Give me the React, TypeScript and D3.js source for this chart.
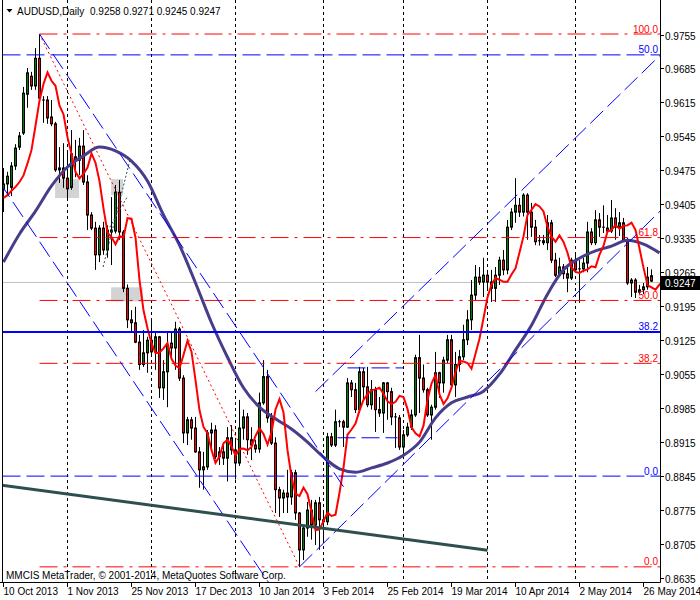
import React from "react";
import * as d3 from "d3";

// ---------- data ----------
const openPrices = [
  0.9435, 0.9447, 0.9440, 0.9484, 0.9523, 0.9552, 0.9632, 0.9669, 0.9649, 0.9706,
  0.9620, 0.9620, 0.9585, 0.9571, 0.9476, 0.9480, 0.9459, 0.9440, 0.9503, 0.9496,
  0.9525, 0.9451, 0.9383, 0.9356, 0.9301, 0.9356, 0.9311, 0.9352, 0.9350, 0.9430,
  0.9348, 0.9232, 0.9167, 0.9161, 0.9121, 0.9075, 0.9099, 0.9125, 0.9101, 0.9132,
  0.9027, 0.9060, 0.9119, 0.9109, 0.9148, 0.9047, 0.8934, 0.8961, 0.8944, 0.8895,
  0.8858, 0.8864, 0.8934, 0.8940, 0.8885, 0.8895, 0.8882, 0.8924, 0.8899, 0.8872,
  0.8944, 0.8967, 0.8920, 0.8909, 0.8901, 0.8996, 0.9050, 0.8965, 0.8913, 0.8817,
  0.8800, 0.8810, 0.8802, 0.8852, 0.8769, 0.8693, 0.8738, 0.8775, 0.8744, 0.8790,
  0.8755, 0.8751, 0.8926, 0.8909, 0.8957, 0.8957, 0.8946, 0.9037, 0.9023, 0.8982,
  0.9060, 0.9029, 0.8992, 0.9023, 0.8982, 0.8975, 0.9037, 0.9019, 0.8967, 0.8965,
  0.8905, 0.8930, 0.8946, 0.8971, 0.9089, 0.9047, 0.9023, 0.8971, 0.8987, 0.9058,
  0.9037, 0.9084, 0.9126, 0.9033, 0.9075, 0.9091, 0.9126, 0.9167, 0.9218, 0.9255,
  0.9245, 0.9259, 0.9245, 0.9232, 0.9259, 0.9290, 0.9270, 0.9358, 0.9389, 0.9403,
  0.9389, 0.9424, 0.9389, 0.9358, 0.9328, 0.9330, 0.9326, 0.9367, 0.9290, 0.9259,
  0.9276, 0.9262, 0.9253, 0.9290, 0.9270, 0.9272, 0.9284, 0.9348, 0.9326, 0.9373,
  0.9358, 0.9356, 0.9350, 0.9377, 0.9358, 0.9367, 0.9332, 0.9243, 0.9249, 0.9224,
  0.9229, 0.9235, 0.9258,
];
const highPrices = [
  0.9480, 0.9472, 0.9492, 0.9529, 0.9554, 0.9647, 0.9686, 0.9678, 0.9727, 0.9756,
  0.9628, 0.9628, 0.9620, 0.9575, 0.9523, 0.9531, 0.9513, 0.9558, 0.9538, 0.9542,
  0.9558, 0.9465, 0.9389, 0.9369, 0.9362, 0.9369, 0.9362, 0.9420, 0.9445, 0.9455,
  0.9352, 0.9240, 0.9187, 0.9194, 0.9136, 0.9146, 0.9132, 0.9167, 0.9140, 0.9134,
  0.9084, 0.9140, 0.9140, 0.9163, 0.9152, 0.9053, 0.8967, 0.8967, 0.8967, 0.8905,
  0.8895, 0.8940, 0.8955, 0.8950, 0.8905, 0.8915, 0.8946, 0.8950, 0.8924, 0.9002,
  0.8982, 0.8975, 0.8946, 0.8920, 0.9017, 0.9084, 0.9064, 0.8975, 0.8925, 0.8823,
  0.8817, 0.8858, 0.8858, 0.8858, 0.8771, 0.8744, 0.8792, 0.8796, 0.8796, 0.8802,
  0.8775, 0.8934, 0.8934, 0.8982, 0.8961, 0.8961, 0.9047, 0.9043, 0.9037, 0.9070,
  0.9068, 0.9070, 0.9043, 0.9029, 0.9008, 0.9039, 0.9039, 0.9027, 0.8975, 0.8971,
  0.8940, 0.8955, 0.8982, 0.9095, 0.9136, 0.9075, 0.9027, 0.8992, 0.9101, 0.9060,
  0.9091, 0.9136, 0.9136, 0.9101, 0.9105, 0.9157, 0.9187, 0.9249, 0.9280, 0.9276,
  0.9295, 0.9270, 0.9270, 0.9276, 0.9297, 0.9311, 0.9373, 0.9397, 0.9459, 0.9418,
  0.9428, 0.9428, 0.9408, 0.9373, 0.9342, 0.9342, 0.9383, 0.9373, 0.9305, 0.9295,
  0.9282, 0.9280, 0.9295, 0.9301, 0.9290, 0.9295, 0.9369, 0.9356, 0.9393, 0.9387,
  0.9403, 0.9383, 0.9414, 0.9397, 0.9389, 0.9377, 0.9336, 0.9253, 0.9253, 0.9239,
  0.9243, 0.9276, 0.9271,
];
const lowPrices = [
  0.9389, 0.9422, 0.9422, 0.9476, 0.9517, 0.9548, 0.9604, 0.9641, 0.9641, 0.9614,
  0.9573, 0.9571, 0.9566, 0.9472, 0.9449, 0.9439, 0.9418, 0.9435, 0.9461, 0.9465,
  0.9445, 0.9352, 0.9352, 0.9270, 0.9286, 0.9301, 0.9295, 0.9280, 0.9345, 0.9332,
  0.9224, 0.9150, 0.9140, 0.9119, 0.9064, 0.9070, 0.9058, 0.9091, 0.9064, 0.9006,
  0.9002, 0.8987, 0.9091, 0.9064, 0.9041, 0.8913, 0.8909, 0.8920, 0.8893, 0.8821,
  0.8817, 0.8858, 0.8899, 0.8880, 0.8868, 0.8868, 0.8834, 0.8889, 0.8838, 0.8866,
  0.8920, 0.8889, 0.8878, 0.8893, 0.8893, 0.8992, 0.8955, 0.8909, 0.8769, 0.8761,
  0.8769, 0.8769, 0.8786, 0.8755, 0.8658, 0.8672, 0.8720, 0.8714, 0.8703, 0.8693,
  0.8707, 0.8744, 0.8905, 0.8905, 0.8946, 0.8905, 0.8944, 0.9008, 0.8975, 0.8975,
  0.9002, 0.8987, 0.8982, 0.8936, 0.8967, 0.8934, 0.8961, 0.8950, 0.8903, 0.8899,
  0.8880, 0.8926, 0.8940, 0.8967, 0.8975, 0.9017, 0.8967, 0.8920, 0.8982, 0.9006,
  0.9017, 0.9078, 0.9029, 0.9008, 0.9060, 0.9084, 0.9115, 0.9146, 0.9208, 0.9239,
  0.9214, 0.9229, 0.9204, 0.9204, 0.9239, 0.9259, 0.9261, 0.9352, 0.9367, 0.9379,
  0.9380, 0.9332, 0.9338, 0.9321, 0.9320, 0.9321, 0.9311, 0.9284, 0.9255, 0.9255,
  0.9251, 0.9224, 0.9249, 0.9265, 0.9202, 0.9265, 0.9265, 0.9321, 0.9321, 0.9338,
  0.9346, 0.9346, 0.9346, 0.9332, 0.9340, 0.9328, 0.9239, 0.9214, 0.9212, 0.9220,
  0.9220, 0.9229, 0.9245,
];
const closePrices = [
  0.9447, 0.9463, 0.9484, 0.9521, 0.9546, 0.9634, 0.9676, 0.9649, 0.9706, 0.9624,
  0.9618, 0.9583, 0.9571, 0.9476, 0.9480, 0.9459, 0.9437, 0.9509, 0.9496, 0.9525,
  0.9451, 0.9383, 0.9356, 0.9301, 0.9356, 0.9311, 0.9352, 0.9348, 0.9430, 0.9348,
  0.9232, 0.9167, 0.9161, 0.9121, 0.9075, 0.9099, 0.9125, 0.9101, 0.9132, 0.9027,
  0.9060, 0.9115, 0.9109, 0.9148, 0.9047, 0.8934, 0.8961, 0.8944, 0.8895, 0.8858,
  0.8864, 0.8934, 0.8940, 0.8885, 0.8895, 0.8882, 0.8924, 0.8899, 0.8872, 0.8944,
  0.8967, 0.8920, 0.8909, 0.8901, 0.8996, 0.9050, 0.8965, 0.8913, 0.8817, 0.8800,
  0.8810, 0.8802, 0.8852, 0.8769, 0.8693, 0.8738, 0.8775, 0.8744, 0.8790, 0.8755,
  0.8751, 0.8926, 0.8909, 0.8957, 0.8957, 0.8946, 0.9037, 0.9023, 0.8982, 0.9060,
  0.9029, 0.8992, 0.9023, 0.8982, 0.8975, 0.9037, 0.9019, 0.8967, 0.8965, 0.8905,
  0.8930, 0.8946, 0.8971, 0.9089, 0.9047, 0.9023, 0.8971, 0.8987, 0.9058, 0.9037,
  0.9084, 0.9126, 0.9033, 0.9075, 0.9091, 0.9126, 0.9167, 0.9218, 0.9255, 0.9245,
  0.9259, 0.9245, 0.9232, 0.9259, 0.9290, 0.9270, 0.9358, 0.9389, 0.9403, 0.9389,
  0.9424, 0.9389, 0.9358, 0.9328, 0.9330, 0.9326, 0.9367, 0.9290, 0.9259, 0.9276,
  0.9262, 0.9253, 0.9290, 0.9270, 0.9272, 0.9284, 0.9348, 0.9326, 0.9373, 0.9358,
  0.9356, 0.9350, 0.9377, 0.9358, 0.9367, 0.9332, 0.9243, 0.9249, 0.9224, 0.9229,
  0.9235, 0.9255, 0.9247,
];

// red moving average: first values (earlier bars are off-chart)
const fastMaHead = [0.9418, 0.9424, 0.9433, 0.9441, 0.9451];
const fastPeriod = 3;
const fastShift = 3;

// slow (slate blue) moving average, read every 4 bars
const slowMaBars = [0, 4, 8, 12, 16, 20, 24, 28, 32, 36, 40, 44, 48, 52, 56, 60, 64, 68, 72, 76, 80,
  84, 88, 92, 96, 100, 104, 108, 112, 116, 120, 124, 128, 132, 136, 140, 144, 148, 152, 156, 160, 164];
const slowMaValues = [0.9286, 0.9344, 0.9391, 0.9443, 0.9482, 0.9505, 0.9523, 0.9515, 0.9494, 0.9453,
  0.9383, 0.9321, 0.9243, 0.9161, 0.9090, 0.9027, 0.8987, 0.8963, 0.8942, 0.8915, 0.8884,
  0.8860, 0.8853, 0.8862, 0.8872, 0.8888, 0.8915, 0.8965, 0.8996, 0.9008, 0.9020, 0.9055,
  0.9105, 0.9156, 0.9220, 0.9270, 0.9294, 0.9309, 0.9319, 0.9331, 0.9323, 0.9305];

const dateLabels = ["10 Oct 2013", "1 Nov 2013", "25 Nov 2013", "17 Dec 2013", "10 Jan 2014",
  "3 Feb 2014", "25 Feb 2014", "19 Mar 2014", "10 Apr 2014", "2 May 2014", "26 May 2014"];
const dateBars = [0, 16, 32, 48, 64, 80, 96, 112, 128, 144, 160];
const monthStartBars = [16, 37, 58, 80, 100, 121, 143];
const priceTicks = [0.8635, 0.8705, 0.8775, 0.8845, 0.8915, 0.8985, 0.9055, 0.9125, 0.9195,
  0.9265, 0.9335, 0.9405, 0.9475, 0.9545, 0.9615, 0.9685, 0.9755];

// Fibonacci (red) from the October high to the January low
const fibHighBar = 9, fibHighPrice = 0.9756;
const fibLowBar = 74, fibLowPrice = 0.8658;
const fibLevels = [0, 38.2, 50, 61.8, 100];

// blue horizontal levels
const blueLevelLabels = ["50.0", "38.2", "0.0"];
const blueLevelPrices = [0.9713, 0.9142, 0.8845];

// trend lines [bar1, price1, bar2, price2]
const blueChannelLines = [
  [9, 0.9756, 85, 0.8823],
  [-1, 0.9451, 67, 0.8617],
  [74, 0.8658, 164.5, 0.9394],
  [78, 0.9019, 164.5, 0.9715],
  [86, 0.9068, 100, 0.9068],
  [83.5, 0.8924, 98.5, 0.8924],
];
const slateLine = [-1, 0.8827, 121, 0.8692];
const greenDotLines = [
  [24.9, 0.9276, 31.6, 0.9496],
  [26.6, 0.9358, 30.9, 0.9420],
];
// gray rectangles [bar1, bar2, priceTop, priceBottom]
const grayRects = [
  [12.9, 18.9, 0.9457, 0.9418],
  [26.9, 29.9, 0.9457, 0.9424],
  [26.9, 34.9, 0.9234, 0.9205],
];

const titleSymbol = "AUDUSD,Daily";
const titleOhlc = "0.9258 0.9271 0.9245 0.9247";
const copyright = "MMCIS MetaTrader, © 2001-2014, MetaQuotes Software Corp.";

// ---------- chart ----------
const FONT = "'Liberation Sans', Arial, sans-serif";

export default function App() {
  const x = d3.scaleLinear().domain([0, 164]).range([3.5, 659.5]);
  const y = d3.scaleLinear().domain([0.86268, 0.98261]).range([582, 0]);
  const plotRight = 660.5;
  const plotBottom = 582.5;

  const fastMa: [number, number][] = [];
  fastMaHead.forEach((v, i) => fastMa.push([i, v]));
  for (let i = fastMaHead.length; i <= closePrices.length - 1 + fastShift; i++) {
    const end = i - fastShift;
    const slice = closePrices.slice(end - fastPeriod + 1, end + 1);
    fastMa.push([i, d3.mean(slice) as number]);
  }
  const slowMa: [number, number][] = slowMaBars.map((b, i) => [b, slowMaValues[i]]);

  const line = d3.line<[number, number]>().x((d) => x(d[0])).y((d) => y(d[1]));
  const slowLine = d3
    .line<[number, number]>()
    .x((d) => x(d[0]))
    .y((d) => y(d[1]))
    .curve(d3.curveMonotoneX);

  const fibPrice = (lvl: number) => fibLowPrice + (lvl / 100) * (fibHighPrice - fibLowPrice);
  const lastClose = closePrices[closePrices.length - 1];

  return (
    <svg
      width={700}
      height={600}
      style={{ position: "absolute", left: 0, top: 0, background: "#fff" }}
      fontFamily={FONT}
      fontSize={10}
    >
      <defs>
        <clipPath id="plot">
          <rect x={2.5} y={0} width={plotRight - 2.5} height={582} />
        </clipPath>
      </defs>
      <rect x={0} y={0} width={700} height={600} fill="#fff" />

      <g clipPath="url(#plot)">
        {grayRects.map((r, i) => (
          <rect
            key={"gr" + i}
            x={x(r[0])}
            y={y(r[2])}
            width={x(r[1]) - x(r[0])}
            height={y(r[3]) - y(r[2])}
            fill="#d3d3d3"
          />
        ))}
        {monthStartBars.map((b) => (
          <line key={"vg" + b} x1={x(b)} x2={x(b)} y1={0} y2={582} stroke="#000" strokeDasharray="3,3" />
        ))}

        {/* current price line */}
        <line x1={2.5} x2={plotRight} y1={Math.round(y(lastClose)) + 1.5} y2={Math.round(y(lastClose)) + 1.5} stroke="#c0c0c0" />

        {/* candles */}
        {closePrices.map((c, i) => {
          const o = openPrices[i];
          const cx = x(i);
          const yo = y(o);
          const yc = y(c);
          const top = Math.min(yo, yc);
          const h = Math.abs(yo - yc);
          return (
            <g key={"c" + i}>
              <line x1={cx} x2={cx} y1={y(highPrices[i])} y2={y(lowPrices[i])} stroke="#000" />
              {h < 1 ? (
                <line x1={cx - 1.5} x2={cx + 1.5} y1={top} y2={top} stroke="#000" />
              ) : (
                <rect
                  x={cx - 1}
                  y={top}
                  width={2}
                  height={h}
                  fill={c >= o ? "#008000" : "#ff0000"}
                  stroke="#000"
                  strokeWidth={1}
                />
              )}
            </g>
          );
        })}

        {/* moving averages */}
        <path d={slowLine(slowMa) || ""} fill="none" stroke="#483d8b" strokeWidth={3} />
        <path d={line(fastMa) || ""} fill="none" stroke="#ff0000" strokeWidth={2} />

        {/* red fibo */}
        <line
          x1={x(fibHighBar)}
          y1={y(fibHighPrice)}
          x2={x(fibLowBar)}
          y2={y(fibLowPrice)}
          stroke="#ff0000"
          strokeDasharray="2,3"
        />
        {fibLevels.map((l) => (
          <line
            key={"fl" + l}
            x1={x(fibHighBar)}
            x2={plotRight}
            y1={y(fibPrice(l))}
            y2={y(fibPrice(l))}
            stroke="#ff0000"
            strokeDasharray="18,6,3,6"
          />
        ))}

        {/* blue levels */}
        {blueLevelPrices.map((p, i) => (
          <line
            key={"bl" + i}
            x1={2.5}
            x2={plotRight}
            y1={y(p)}
            y2={y(p)}
            stroke="#0000ff"
            strokeWidth={i === 1 ? 2 : 1}
            strokeDasharray={i === 1 ? undefined : "18,6"}
          />
        ))}

        {/* blue channels */}
        {blueChannelLines.map((l, i) => (
          <line
            key={"bc" + i}
            x1={x(l[0])}
            y1={y(l[1])}
            x2={x(l[2])}
            y2={y(l[3])}
            stroke="#0000ff"
            strokeDasharray="18,6"
          />
        ))}
        {greenDotLines.map((l, i) => (
          <line
            key={"gd" + i}
            x1={x(l[0])}
            y1={y(l[1])}
            x2={x(l[2])}
            y2={y(l[3])}
            stroke="#2f4f4f"
            strokeDasharray="2,2"
          />
        ))}
        <line
          x1={x(slateLine[0])}
          y1={y(slateLine[1])}
          x2={x(slateLine[2])}
          y2={y(slateLine[3])}
          stroke="#2f4f4f"
          strokeWidth={3}
        />
      </g>

      {/* level labels */}
      {fibLevels.map((l) => (
        <text key={"ft" + l} x={658} y={y(fibPrice(l)) - 1.5} textAnchor="end" fill="#ff0000">
          {l.toFixed(1)}
        </text>
      ))}
      {blueLevelPrices.map((p, i) => (
        <text key={"bt" + i} x={658} y={y(p) - 1.5} textAnchor="end" fill="#0000ff">
          {blueLevelLabels[i]}
        </text>
      ))}

      {/* frame & axes */}
      <line x1={2.5} x2={2.5} y1={0} y2={plotBottom} stroke="#000" />
      <line x1={plotRight} x2={plotRight} y1={0} y2={plotBottom} stroke="#000" />
      <line x1={0} x2={plotRight} y1={plotBottom} y2={plotBottom} stroke="#000" />
      {priceTicks.map((p) => (
        <g key={"pt" + p}>
          <line x1={plotRight} x2={664} y1={Math.round(y(p)) + 0.5} y2={Math.round(y(p)) + 0.5} stroke="#000" />
          <text x={665} y={Math.round(y(p)) + 4.5} fill="#000">
            {p.toFixed(4)}
          </text>
        </g>
      ))}
      {dateBars.map((b, i) => (
        <g key={"dt" + b}>
          <line x1={x(b)} x2={x(b)} y1={plotBottom} y2={587} stroke="#000" />
          <text x={x(b)} y={595} fill="#000">
            {dateLabels[i]}
          </text>
        </g>
      ))}

      {/* price marker */}
      <rect x={661} y={Math.round(y(lastClose)) - 5} width={39} height={14} fill="#000" />
      <text x={665} y={Math.round(y(lastClose)) + 6} fill="#fff">
        {lastClose.toFixed(4)}
      </text>

      {/* title */}
      <polygon points="6.5,9 12.5,9 9.5,12.5" fill="#000" />
      <text x={17} y={14.5} fill="#000">
        {titleSymbol}
      </text>
      <text x={90} y={14.5} fill="#000">
        {titleOhlc}
      </text>
      <text x={6} y={578.5} fill="#000">
        {copyright}
      </text>
    </svg>
  );
}
